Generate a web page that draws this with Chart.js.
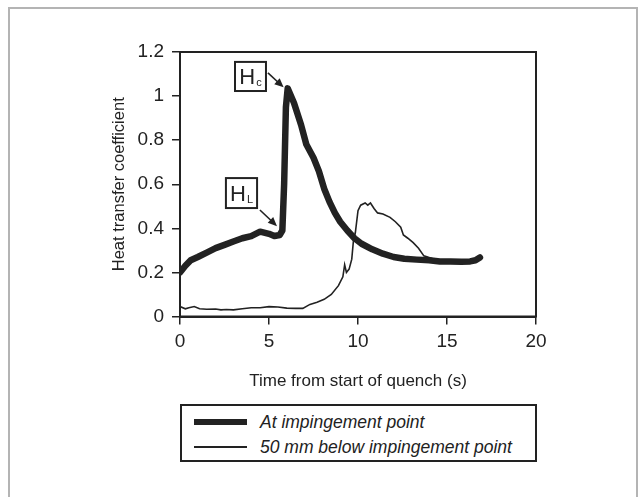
<!DOCTYPE html>
<html>
<head>
<meta charset="utf-8">
<script src="https://cdn.jsdelivr.net/npm/chart.js@4/dist/chart.umd.min.js"></script>
<style>
  html, body { margin: 0; padding: 0; background: #fff; }
  #wrap { position: relative; width: 644px; height: 497px; overflow: hidden; font-family: "Liberation Sans", Arial, sans-serif; }
  #c { position: absolute; left: 0; top: 0; }
  #frame { position: absolute; left: 8px; top: 7px; width: 630px; height: 520px; border: 2px solid #b4b4b4; box-sizing: border-box; }
  #legend { position: absolute; left: 180px; top: 404px; width: 357px; height: 58px; border: 2px solid #222; box-sizing: border-box; background: #fff; }
  .row { position: absolute; left: 0; height: 22px; }
  .sample { position: absolute; left: 12px; width: 53px; background: #222; }
  .lbl { position: absolute; left: 78px; font-style: italic; font-size: 17.5px; color: #222; white-space: nowrap; line-height: 22px; }
</style>
</head>
<body>
<div id="wrap">
  <div id="frame"></div>
  <canvas id="c" width="644" height="497"></canvas>
  <div id="legend">
    <div class="row" style="top:5px"><div class="sample" style="top:8px;height:6px"></div><div class="lbl" id="l0"></div></div>
    <div class="row" style="top:30px"><div class="sample" style="top:10px;height:1.5px"></div><div class="lbl" id="l1"></div></div>
  </div>
</div>
<script>
// ---- data ----
const seriesNames = ["At impingement point", "50 mm below impingement point"];
const xTicks = [0, 5, 10, 15, 20];
const yTicks = [0, 0.2, 0.4, 0.6, 0.8, 1, 1.2];

const impingeX = [0, 0.3, 0.6, 1.0, 1.5, 2.0, 2.5, 3.0, 3.5, 4.0, 4.5, 5.0, 5.3, 5.6, 5.75, 5.85, 5.95, 6.05, 6.4, 6.8, 7.1, 7.5, 7.8, 8.1, 8.4, 8.7, 9.0, 9.4, 9.8, 10.2, 10.8, 11.4, 12.0, 12.6, 13.3, 14.0, 14.6, 15.2, 15.8, 16.3, 16.6, 16.85];
const impingeY = [0.20, 0.23, 0.255, 0.27, 0.29, 0.31, 0.325, 0.34, 0.355, 0.365, 0.385, 0.375, 0.365, 0.37, 0.39, 0.60, 0.95, 1.035, 0.97, 0.87, 0.78, 0.72, 0.66, 0.58, 0.52, 0.47, 0.43, 0.39, 0.355, 0.33, 0.305, 0.285, 0.27, 0.262, 0.258, 0.255, 0.25, 0.249, 0.248, 0.25, 0.255, 0.268];

const belowX = [0, 0.3, 0.5, 0.8, 1.1, 1.5, 2.0, 2.3, 2.6, 3.0, 3.5, 4.0, 4.5, 5.0, 5.5, 6.0, 6.5, 6.9, 7.3, 7.7, 8.1, 8.5, 8.9, 9.15, 9.25, 9.35, 9.5, 9.65, 9.75, 9.85, 10.0, 10.15, 10.4, 10.55, 10.7, 10.9, 11.1, 11.4, 11.8, 12.1, 12.4, 12.55, 12.8, 13.1, 13.4, 13.7, 14.2, 15.0, 15.8, 16.5];
const belowY = [0.045, 0.035, 0.04, 0.045, 0.035, 0.033, 0.034, 0.03, 0.032, 0.03, 0.035, 0.04, 0.04, 0.045, 0.043, 0.038, 0.037, 0.037, 0.055, 0.065, 0.078, 0.10, 0.14, 0.18, 0.235, 0.20, 0.215, 0.26, 0.35, 0.38, 0.48, 0.505, 0.515, 0.505, 0.515, 0.49, 0.47, 0.465, 0.45, 0.43, 0.405, 0.37, 0.355, 0.335, 0.31, 0.275, 0.262, 0.252, 0.25, 0.252];

// annotation labels (data coordinates): box corners and arrow from/to
const annoMain = ["H", "H"];
const annoSub = ["c", "L"];
const annoBox = [[3.09, 1.155, 4.83, 1.023], [2.58, 0.628, 4.33, 0.492]];
const annoArrow = [[4.94, 1.105, 5.82, 1.04], [4.49, 0.483, 5.45, 0.41]];

document.getElementById('l0').textContent = seriesNames[0];
document.getElementById('l1').textContent = seriesNames[1];

const ink = '#222';
const toPts = (xs, ys) => xs.map((x, i) => ({x: x, y: ys[i]}));

const boxPlugin = {
  id: 'boxAndAnno',
  afterDraw(chart) {
    const {ctx, chartArea: a, scales: {x, y}} = chart;
    ctx.save();
    ctx.strokeStyle = ink;
    ctx.lineWidth = 2;
    ctx.strokeRect(a.left, a.top, a.right - a.left, a.bottom - a.top);
    for (let i = 0; i < annoMain.length; i++) {
      const b = annoBox[i];
      const x0 = x.getPixelForValue(b[0]), y0 = y.getPixelForValue(b[1]);
      const x1 = x.getPixelForValue(b[2]), y1 = y.getPixelForValue(b[3]);
      ctx.fillStyle = '#fff';
      ctx.fillRect(x0, y0, x1 - x0, y1 - y0);
      ctx.strokeStyle = ink;
      ctx.lineWidth = 2;
      ctx.strokeRect(x0, y0, x1 - x0, y1 - y0);
      ctx.fillStyle = ink;
      ctx.font = '22px "Liberation Sans", Arial, sans-serif';
      ctx.textBaseline = 'alphabetic';
      ctx.textAlign = 'left';
      const hw = ctx.measureText(annoMain[i]).width;
      ctx.font = '11px "Liberation Sans", Arial, sans-serif';
      const sw = ctx.measureText(annoSub[i]).width;
      const tx = (x0 + x1) / 2 - (hw + sw + 1) / 2;
      const base = (y0 + y1) / 2 + 8;
      ctx.font = '22px "Liberation Sans", Arial, sans-serif';
      ctx.fillText(annoMain[i], tx, base);
      ctx.font = '11px "Liberation Sans", Arial, sans-serif';
      ctx.fillText(annoSub[i], tx + hw + 1, base + 2);
      // arrow
      const ar = annoArrow[i];
      const ax0 = x.getPixelForValue(ar[0]), ay0 = y.getPixelForValue(ar[1]);
      const ax1 = x.getPixelForValue(ar[2]), ay1 = y.getPixelForValue(ar[3]);
      const ang = Math.atan2(ay1 - ay0, ax1 - ax0);
      ctx.strokeStyle = ink;
      ctx.lineWidth = 1.6;
      ctx.beginPath();
      ctx.moveTo(ax0, ay0);
      ctx.lineTo(ax1 - 6 * Math.cos(ang), ay1 - 6 * Math.sin(ang));
      ctx.stroke();
      ctx.beginPath();
      ctx.moveTo(ax1, ay1);
      ctx.lineTo(ax1 - 9 * Math.cos(ang) + 4 * Math.sin(ang), ay1 - 9 * Math.sin(ang) - 4 * Math.cos(ang));
      ctx.lineTo(ax1 - 9 * Math.cos(ang) - 4 * Math.sin(ang), ay1 - 9 * Math.sin(ang) + 4 * Math.cos(ang));
      ctx.closePath();
      ctx.fillStyle = ink;
      ctx.fill();
    }
    ctx.restore();
  }
};

new Chart(document.getElementById('c'), {
  type: 'line',
  data: {
    datasets: [
      { label: seriesNames[0], data: toPts(impingeX, impingeY), borderColor: ink, borderWidth: 6.5, pointRadius: 0, tension: 0, borderJoinStyle: 'round', borderCapStyle: 'round', order: 1 },
      { label: seriesNames[1], data: toPts(belowX, belowY), borderColor: ink, borderWidth: 1.6, pointRadius: 0, tension: 0, order: 2 }
    ]
  },
  options: {
    responsive: false,
    animation: false,
    events: [],
    layout: { padding: { left: 110, top: 52, right: 108, bottom: 105 } },
    plugins: { legend: { display: false }, tooltip: { enabled: false } },
    scales: {
      x: {
        type: 'linear', min: 0, max: 20,
        afterBuildTicks: (s) => { s.ticks = xTicks.map(v => ({value: v})); },
        afterFit: (s) => { s.height = 497 - 105 - 316.5; },
        grid: { drawOnChartArea: false, drawTicks: true, tickLength: 8, color: ink, lineWidth: 1.5 },
        border: { color: ink, width: 2 },
        ticks: { color: ink, font: { family: '"Liberation Sans", Arial, sans-serif', size: 19 }, padding: 6 },
        title: { display: true, text: 'Time from start of quench (s)', color: ink, font: { family: '"Liberation Sans", Arial, sans-serif', size: 17 }, padding: { top: 17, bottom: 0 } }
      },
      y: {
        type: 'linear', min: 0, max: 1.2,
        afterBuildTicks: (s) => { s.ticks = yTicks.map(v => ({value: v})); },
        afterFit: (s) => { s.width = 180 - 110; },
        grid: { drawOnChartArea: false, drawTicks: true, tickLength: 8, color: ink, lineWidth: 1.5 },
        border: { color: ink, width: 2 },
        ticks: { color: ink, font: { family: '"Liberation Sans", Arial, sans-serif', size: 19 }, padding: 8, callback: (v) => String(v) },
        title: { display: true, text: 'Heat transfer coefficient', color: ink, font: { family: '"Liberation Sans", Arial, sans-serif', size: 16.5 }, padding: { top: 0, bottom: 0 } }
      }
    }
  },
  plugins: [boxPlugin]
});
</script>
</body>
</html>
